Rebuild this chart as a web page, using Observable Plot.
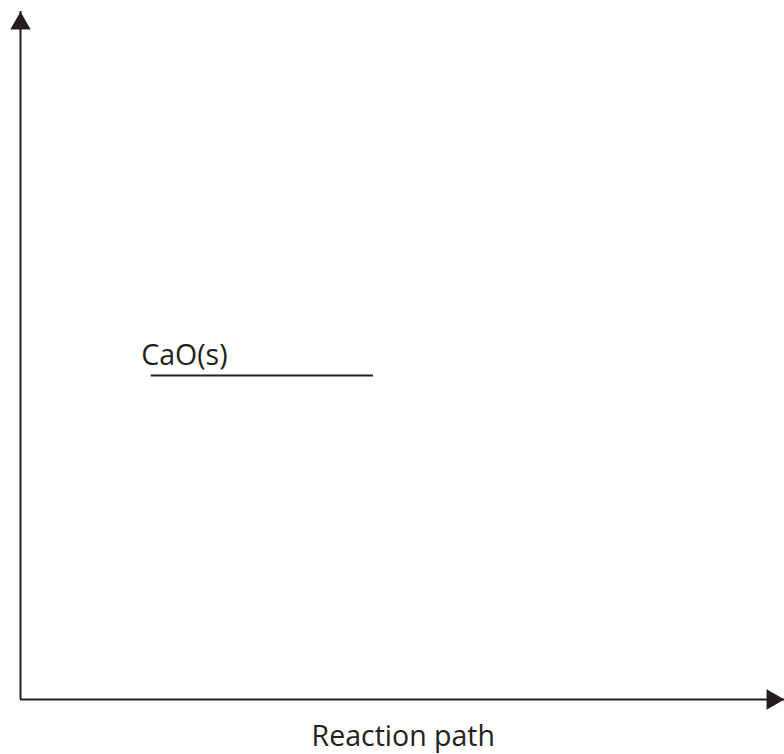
<!DOCTYPE html>
<html>
<head>
<meta charset="utf-8">
<script src="https://cdn.jsdelivr.net/npm/d3@7"></script>
<script src="https://cdn.jsdelivr.net/npm/@observablehq/plot@0.6"></script>
<style>
  html, body { margin: 0; padding: 0; background: #fff; }
</style>
</head>
<body>
<div id="chart"></div>
<script>
// Energy level diagram (abstract coordinates 0..100)
const levelNames = ["CaO(s)"];
const levelStart = [17.1];
const levelEnd = [46.2];
const levelEnergy = [47.1];
const labelX = [15.8];
const labelY = [50.0];
const axisLabel = "Reaction path";

const levels = levelNames.map((name, i) => ({
  name, x1: levelStart[i], x2: levelEnd[i], y: levelEnergy[i], lx: labelX[i], ly: labelY[i]
}));

const ink = "#231f20";
const font = "'Open Sans', sans-serif";

const chart = Plot.plot({
  width: 784,
  height: 754,
  marginLeft: 20,
  marginRight: 0,
  marginTop: 11,
  marginBottom: 55,
  x: { domain: [0, 100], axis: null },
  y: { domain: [0, 100], axis: null },
  style: { fontFamily: font, color: ink, background: "#fff" },
  marks: [
    // axes lines
    Plot.ruleX([0], { y1: 0, y2: 100, stroke: ink, strokeWidth: 2 }),
    Plot.ruleY([0], { x1: 0, x2: 100, stroke: ink, strokeWidth: 2 }),
    // arrow heads
    Plot.dot([{ x: 0, y: 100 }], { x: "x", y: "y", symbol: "triangle", r: 7.6, fill: ink, stroke: "none", dy: 12 }),
    Plot.dot([{ x: 100, y: 0 }], { x: "x", y: "y", symbol: "triangle", r: 7.6, fill: ink, stroke: "none", rotate: 90, dx: -12 }),
    // energy level
    Plot.ruleY(levels, { x1: "x1", x2: "x2", y: "y", stroke: ink, strokeWidth: 2 }),
    Plot.text(levels, { x: "lx", y: "ly", text: "name", textAnchor: "start", lineAnchor: "middle", fontSize: 28.5, fill: ink }),
    // axis label
    Plot.text([axisLabel], { x: 50.1, y: -5.5, text: d => d, textAnchor: "middle", lineAnchor: "middle", fontSize: 28.5, fill: ink })
  ]
});

document.getElementById("chart").appendChild(chart);
</script>
</body>
</html>
